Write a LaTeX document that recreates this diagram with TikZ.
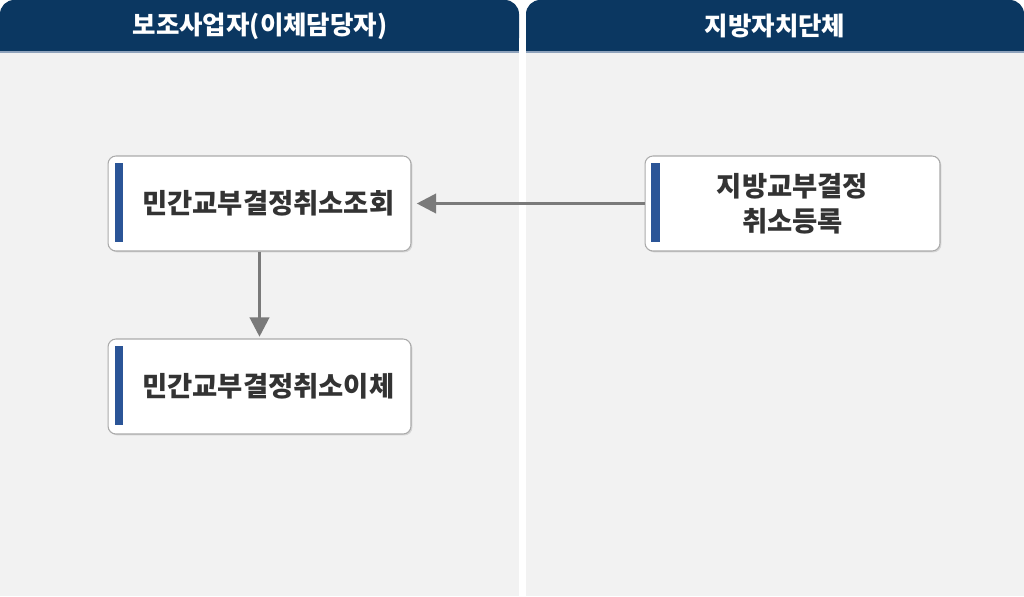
\documentclass[tikz,border=0pt]{standalone}
\usepackage{fontspec}
\setmainfont{Noto Sans CJK KR}
\usepackage{tikz}
\usetikzlibrary{positioning,calc,arrows.meta,shadows}
\definecolor{lanehead}{HTML}{0B3761}
\definecolor{laneline}{HTML}{8FA3BC}
\definecolor{lanebg}{HTML}{F2F2F2}
\definecolor{accent}{HTML}{2B5597}
\definecolor{boxline}{HTML}{ABABAB}
\definecolor{flowline}{HTML}{7A7A7A}
\definecolor{boxtext}{HTML}{333333}

\begin{document}
\begin{tikzpicture}[x=0.02cm,y=-0.02cm]
	\tikzstyle{lanetitle} = [text=white,font=\fontsize{14.5}{16}\selectfont\bfseries]
	\tikzstyle{task} = [draw=boxline,line width=0.6pt,rectangle,rounded corners=4.5pt,fill=white,text=boxtext,align=center,font=\fontsize{15.6}{20}\selectfont\bfseries,minimum height=1.9cm,drop shadow={shadow xshift=0.8pt,shadow yshift=-0.8pt,opacity=0.25}]
	\tikzstyle{flow} = [draw=flowline,line width=1.7pt,-{Triangle[length=11pt,width=11pt]}]

	\useasboundingbox (0,0) rectangle (1024,596);
	\fill[white] (0,0) rectangle (1024,596);

	% lanes
	\fill[lanebg] (0,52) rectangle (519,596);
	\fill[lanebg] (526,52) rectangle (1024,596);
	\fill[lanehead,rounded corners=8pt] (0,0) rectangle (519,52);
	\fill[lanehead,rounded corners=8pt] (526,0) rectangle (1024,52);
	\fill[lanehead] (0,26) rectangle (519,52);
	\fill[lanehead] (526,26) rectangle (1024,52);
	\draw[laneline,line width=0.6pt] (0,52) -- (519,52);
	\draw[laneline,line width=0.6pt] (526,52) -- (1024,52);
	\node[lanetitle] (L1) at (260,26) {보조사업자(이체담당자)};
	\node[lanetitle] (L2) at (775,26) {지방자치단체};

	% tasks
	\node[task,minimum width=6.06cm,text width=5.4cm] (T1) at (259.5,203.5) {\hspace*{10pt}민간교부결정취소조회};
	\node[task,minimum width=6.06cm,text width=5.4cm] (T2) at (259.5,386.5) {\hspace*{10pt}민간교부결정취소이체};
	\node[task,minimum width=5.9cm,text width=5.2cm] (T3) at (792.5,203.5) {지방교부결정\\취소등록};

	% accent bars
	\fill[accent] ([xshift=4pt,yshift=-4pt]T1.north west) rectangle ++(5pt,-45pt);
	\fill[accent] ([xshift=4pt,yshift=-4pt]T2.north west) rectangle ++(5pt,-45pt);
	\fill[accent] ([xshift=3.7pt,yshift=-4pt]T3.north west) rectangle ++(5pt,-45pt);

	% flows
	\draw[flow] (T3.west) -- ([xshift=3pt]T1.east);
	\draw[flow] (T1.south) -- ([yshift=1pt]T2.north);
\end{tikzpicture}
\end{document}
